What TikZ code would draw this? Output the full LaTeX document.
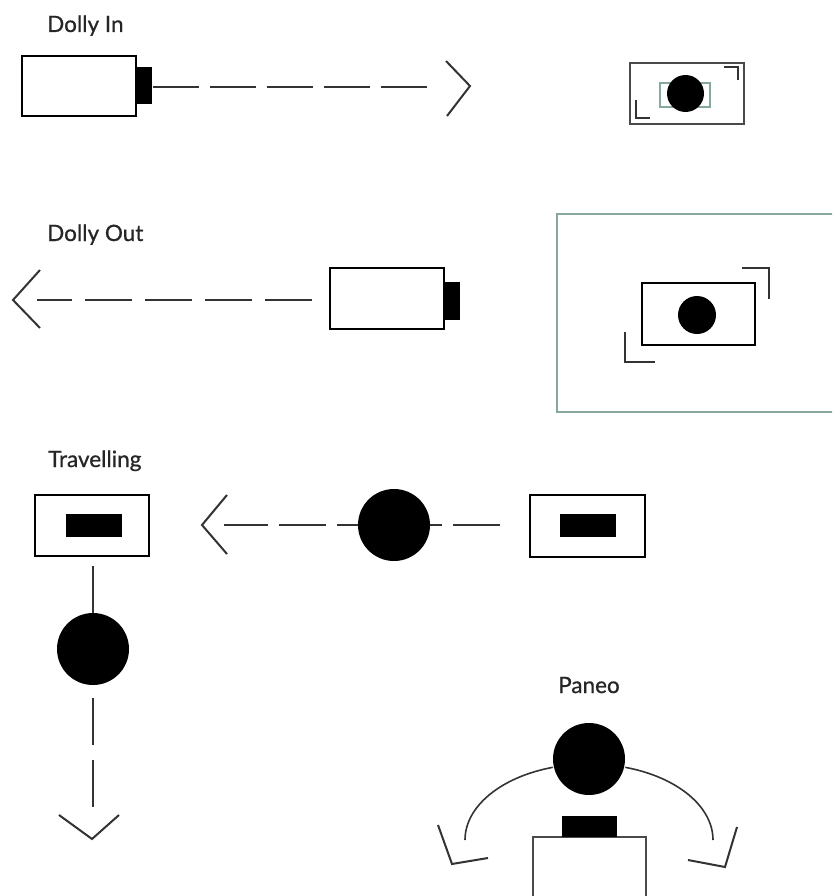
\documentclass[tikz,border=0pt]{standalone}
\usepackage{fontspec}
\setmainfont{Lato}
\newfontfamily\lblfont{Lato}[FakeBold=0.8]
\definecolor{frameg}{HTML}{87A89E}
\definecolor{dashc}{HTML}{333333}
\definecolor{iconc}{HTML}{4A4A4A}
\begin{document}
\begin{tikzpicture}[x=1pt,y=-1pt,
  lbl/.style={anchor=base west,inner sep=0pt,text=black!85,font=\lblfont\fontsize{22.5}{27}\selectfont},
  camsq/.style={draw=black,line width=2pt,fill=white,inner sep=0pt,minimum width=114pt,minimum height=61pt},
  lensbox/.style={fill=black,inner sep=0pt,anchor=west,minimum width=15pt,minimum height=37pt},
  topblk/.style={fill=black,inner sep=0pt,minimum width=56pt,minimum height=23pt},
  subj/.style={circle,fill=black,inner sep=0pt,minimum size=72pt},
  track/.style={draw=dashc,line width=2pt,dash pattern=on 47pt off 11pt},
  chev/.style={draw=dashc,line width=2pt,line join=miter},
  icon/.style={draw=iconc,line width=2pt},
  cornermark/.style={draw=dashc,line width=1.6pt}
]
\path[use as bounding box,clip] (0,0) rectangle (832,896);

% ---------------- Dolly In
\node[lbl] (tIn) at (47,32) {Dolly In};
\node[camsq,line width=2.4pt,minimum width=114pt,minimum height=60pt] (cam1) at (79,86) {};
\node[lensbox] (lens1) at (cam1.east) {};
\coordinate (e1) at (428,87);
\coordinate (tip1) at (470,86);
\draw[track,dash pattern=on 46pt off 11pt] (lens1.east |- e1) -- (e1);
\draw[chev] (446,61) -- (tip1) -- (447,116);
% frame icon
\node[icon,inner sep=0pt,minimum width=114pt,minimum height=61pt] (fr1) at (687,93.5) {};
\node[draw=frameg,line width=1.6pt,inner sep=0pt,minimum width=50pt,minimum height=24pt] (fr1in) at (685,95) {};
\node[circle,fill=black,inner sep=0pt,minimum size=37pt] (s1) at (685.5,93.5) {};
\draw[cornermark] (724,67) -- (738,67) -- (738,80);
\draw[cornermark] (636,100) -- (636,118) -- (650,118);

% ---------------- Dolly Out
\node[lbl] (tOut) at (47,241) {Dolly Out};
\node[camsq] (cam2) at (387,298.5) {};
\node[lensbox,minimum height=38pt] (lens2) at ([yshift=-2pt]cam2.east) {};
\coordinate (s2) at (312,300);
\coordinate (e2) at (37,300);
\coordinate (tip2) at (13,300);
\draw[track,dash pattern=on 47pt off 13pt] (s2) -- (e2);
\draw[chev] (40,270) -- (tip2) -- (40,328);
% big frame
\draw[draw=frameg,line width=2.2pt] (840,214) -- (557,214) -- (557,412) -- (840,412);
\node[draw=black,line width=2pt,inner sep=0pt,minimum width=113pt,minimum height=62pt] (fr2) at (698.5,314) {};
\node[circle,fill=black,inner sep=0pt,minimum size=38pt] (s2c) at (697,315) {};
\draw[cornermark,line width=2pt] (742,268) -- (769,268) -- (769,299);
\draw[cornermark,line width=2pt] (625,332) -- (625,362) -- (655,362);

% ---------------- Travelling
\node[lbl] (tTr) at (48,467) {Travelling};
\node[camsq] (camL) at (92,525.5) {};
\node[topblk] (blkL) at (94,525.5) {};
\node[camsq,minimum width=115pt,minimum height=62pt] (camR) at (587.5,526) {};
\node[topblk] (blkR) at (588,525.5) {};
\coordinate (s3) at (500,525);
\coordinate (e3) at (224,525);
\coordinate (tip3) at (202,525);
\draw[track] (s3) -- (e3);
\node[subj] (sT) at (394,525) {};
\draw[chev] (227,495) -- (tip3) -- (227,554);
% vertical
\node[subj] (sV) at (93,649) {};
\coordinate (v0) at (93,566);
\coordinate (v1) at (93,698);
\coordinate (v2) at (93,807);
\coordinate (tip4) at (92,839);
\draw[draw=dashc,line width=2pt] (v0) -- (sV.north);
\draw[track,dash pattern=on 47pt off 15pt] (v1) -- (v2);
\draw[chev] (59,815) -- (tip4) -- (119,815);

% ---------------- Paneo
\node[lbl] (tPa) at (558,693) {Paneo};
\draw[draw=dashc,line width=1.6pt] (465,840) arc[start angle=180,end angle=107,x radius=124pt,y radius=76pt];
\draw[draw=dashc,line width=1.6pt] (713,840) arc[start angle=0,end angle=73,x radius=124pt,y radius=76pt];
\node[subj] (sP) at (589,759) {};
\draw[draw=iconc,line width=2pt,fill=white] (533,905) -- (533,837) -- (646,837) -- (646,905);
\node[fill=black,inner sep=0pt,minimum width=55pt,minimum height=21pt] (lens3) at (589.5,826.5) {};
\draw[chev] (438,825) -- (452,864) -- (488,858);
\draw[chev] (737,827) -- (725,867) -- (688,860);
\end{tikzpicture}
\end{document}
